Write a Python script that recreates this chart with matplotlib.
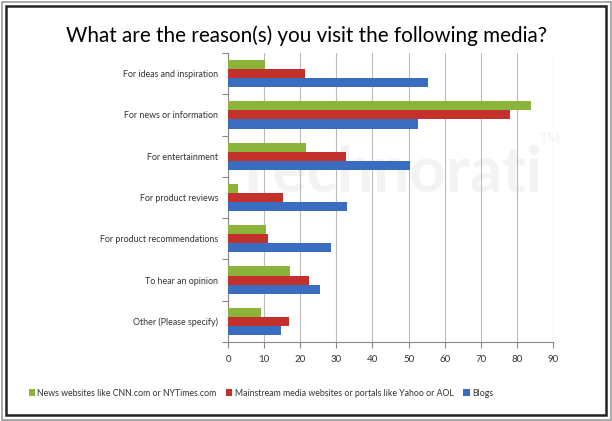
import numpy as np
import matplotlib.pyplot as plt
from matplotlib.patches import Rectangle

plt.rcParams['font.family'] = ['Lato', 'DejaVu Sans']

# Data
categories = ['For ideas and inspiration', 'For news or information', 'For entertainment',
              'For product reviews', 'For product recommendations', 'To hear an opinion',
              'Other (Please specify)']
news_sites = [10.3, 83.9, 21.6, 2.9, 10.6, 17.3, 9.0]
mainstream = [21.4, 78.0, 32.6, 15.3, 11.2, 22.3, 16.8]
blogs = [55.3, 52.5, 50.5, 33.0, 28.4, 25.6, 14.8]
series_names = ['News websites like CNN.com or NYTimes.com',
                'Mainstream media websites or portals like Yahoo or AOL', 'Blogs']
x_ticks = [0, 10, 20, 30, 40, 50, 60, 70, 80, 90]

green = '#8cb33a'
red = '#c3312d'
blue = '#3a6dbf'

fig = plt.figure(figsize=(6.12, 4.21), dpi=100)

# faint watermark behind the chart
fig.text(0.635, 0.59, 'Technorati', fontsize=46, color='#f3f3f3', ha='center', va='center',
         fontweight='bold', zorder=0)
fig.text(0.9, 0.67, 'TM', fontsize=10, color='#f3f3f3', ha='center', va='center', zorder=0)

ax = fig.add_axes([228 / 612, 1 - 342 / 421, 325 / 612, 289 / 421], zorder=2)

y = np.arange(len(categories))
h = 0.22
ax.barh(y - h, news_sites, height=h, color=green, label=series_names[0], zorder=3)
ax.barh(y, mainstream, height=h, color=red, label=series_names[1], zorder=3)
ax.barh(y + h, blogs, height=h, color=blue, label=series_names[2], zorder=3)

ax.set_xlim(0, 90)
ax.set_ylim(len(categories) - 0.5, -0.5)
ax.set_xticks(x_ticks)
ax.set_xticklabels([str(t) for t in x_ticks], fontsize=7, color='#333333')
ax.set_yticks(np.arange(len(categories) + 1) - 0.5)
ax.set_yticklabels([])
ax.set_yticks(y, minor=True)
ax.set_yticklabels(categories, minor=True, fontsize=6.4, color='#333333')
ax.tick_params(axis='y', which='minor', length=0, pad=7)
ax.tick_params(axis='y', which='major', length=4, color='#888888')
ax.tick_params(axis='x', length=4, color='#888888', pad=5)
ax.grid(axis='x', color='#bbbbbb', linewidth=0.8, zorder=0)
ax.set_facecolor('none')
for s in ['top', 'right']:
    ax.spines[s].set_visible(False)
ax.spines['left'].set_color('#888888')
ax.spines['bottom'].set_color('#888888')

fig.suptitle('What are the reason(s) you visit the following media?', y=0.94,
             fontsize=14.9)

fig.legend(loc='center', bbox_to_anchor=(261 / 612, 1 - 393 / 421), ncol=3, frameon=False,
           fontsize=6.3, handlelength=0.7, handleheight=0.7, handletextpad=0.3,
           columnspacing=1.1, labelcolor='#333333')

# double frame around the picture
fig.patches.append(Rectangle((1.5 / 612, 1.5 / 421), 609 / 612, 418 / 421, fill=False,
                             edgecolor='#999999', linewidth=1.2, transform=fig.transFigure))
fig.patches.append(Rectangle((6 / 612, 6 / 421), 600 / 612, 409 / 421, fill=False,
                             edgecolor='#222222', linewidth=1.8, transform=fig.transFigure))

plt.savefig('out.png', dpi=100)
